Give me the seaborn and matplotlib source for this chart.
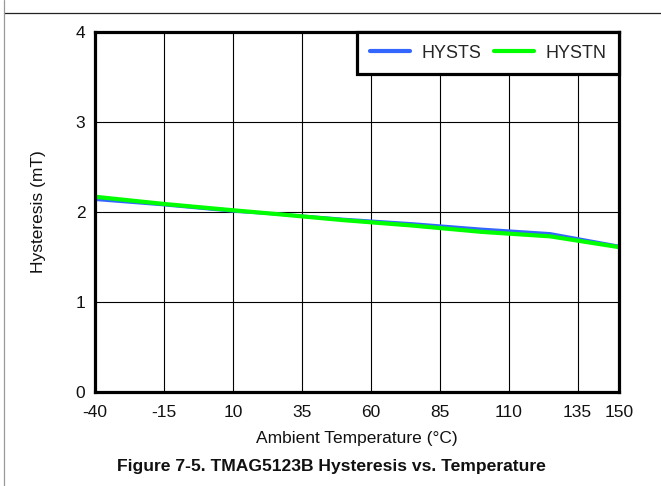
import numpy as np
import pandas as pd
import matplotlib
matplotlib.use("Agg")
import matplotlib.pyplot as plt
from matplotlib.lines import Line2D
import seaborn as sns

# === data ===
temps = [-40, -15, 10, 25, 50, 75, 100, 125, 150]
hysts = [2.14, 2.08, 2.01, 1.98, 1.92, 1.87, 1.81, 1.76, 1.62]
hystn = [2.17, 2.09, 2.02, 1.98, 1.91, 1.85, 1.78, 1.73, 1.61]
series_names = ["HYSTS", "HYSTN"]
series_colors = ["#3366FF", "#00FF00"]
x_ticks = [-40, -15, 10, 35, 60, 85, 110, 135, 150]
y_ticks = [0, 1, 2, 3, 4]

df = pd.DataFrame({
    "temp": temps * 2,
    "hyst": hysts + hystn,
    "series": [series_names[0]] * len(temps) + [series_names[1]] * len(temps),
})

sns.set_style("white")
plt.rcParams["font.family"] = ["Liberation Sans", "DejaVu Sans"]
plt.rcParams["axes.unicode_minus"] = False

fig = plt.figure(figsize=(6.61, 4.86), dpi=100)
ax = fig.add_axes([0.1437, 0.1934, 0.7928, 0.7406])

sns.lineplot(data=df, x="temp", y="hyst", hue="series", hue_order=series_names,
             palette=dict(zip(series_names, series_colors)), ax=ax)
# green drawn on top, a bit thicker
for ln, lw in zip(ax.get_lines(), [2.3, 3.0]):
    ln.set_linewidth(lw)

ax.set_xlim(-40, 150)
ax.set_ylim(0, 4)
ax.set_xticks(x_ticks)
ax.set_yticks(y_ticks)
ax.grid(True, color="black", linewidth=0.8)
ax.tick_params(length=0, labelsize=12.5, colors="#111111")
ax.tick_params(axis="x", pad=9)
ax.tick_params(axis="y", pad=7)
for sp in ax.spines.values():
    sp.set_visible(True)
    sp.set_color("black")
    sp.set_linewidth(2.3)
ax.set_xlabel("Ambient Temperature (°C)", fontsize=12.5, color="#111111")
ax.set_ylabel("Hysteresis (mT)", fontsize=12.5, color="#111111")
ax.xaxis.set_label_coords(0.5, -0.108)
ax.yaxis.set_label_coords(-0.093, 0.5)

leg = ax.legend(loc="upper right", bbox_to_anchor=(1.0, 1.0), borderaxespad=0,
                ncol=2, fontsize=13, frameon=True, fancybox=False,
                handlelength=2.2, handletextpad=0.65, columnspacing=0.7,
                borderpad=0.7, title=None)
leg.get_frame().set_edgecolor("black")
leg.get_frame().set_linewidth(2.3)
leg.get_frame().set_alpha(1)
for h in leg.get_lines():
    h.set_linewidth(3.0)

# caption
fig.text(0.502, 0.041, "Figure 7-5. TMAG5123B Hysteresis vs. Temperature",
         ha="center", va="center", fontsize=12.6, fontweight="bold", color="#111111")

# page frame lines
fig.add_artist(Line2D([4 / 661, 1.0], [1 - 13 / 486, 1 - 13 / 486],
                      transform=fig.transFigure, color="#222222", linewidth=0.9))
fig.add_artist(Line2D([4 / 661, 4 / 661], [0, 1],
                      transform=fig.transFigure, color="#999999", linewidth=0.9))

fig.savefig("out.png", dpi=100)
